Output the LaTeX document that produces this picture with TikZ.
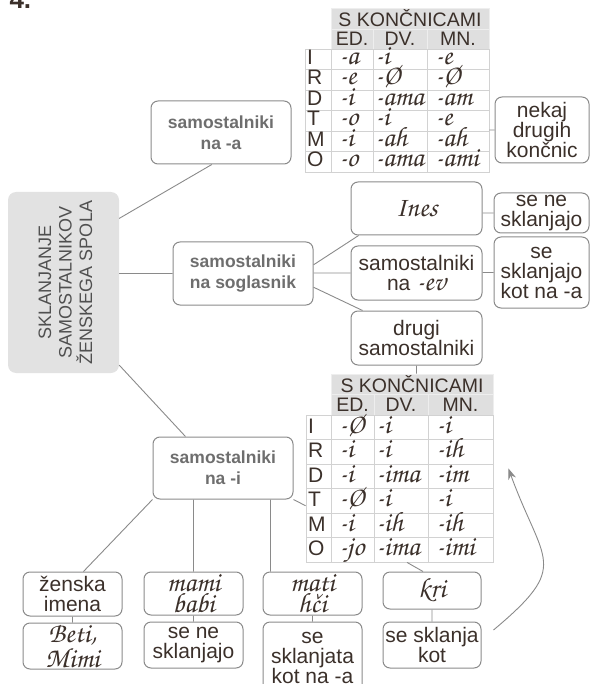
\documentclass[tikz,border=0pt]{standalone}
\usepackage[T1,TU]{fontenc}
\usepackage{fontspec}
\setmainfont{Liberation Sans}
\usepackage{tikz}
\usetikzlibrary{arrows.meta}

\definecolor{linegray}{HTML}{8A8A8A}
\definecolor{boldtxt}{HTML}{6E6E6E}
\definecolor{txt}{HTML}{3B302A}
\definecolor{maintxt}{HTML}{505050}
\definecolor{mainfill}{HTML}{E2E2E2}
\definecolor{hdrfill}{HTML}{DFDFDF}
\definecolor{hdrline}{HTML}{EEEEEE}
\definecolor{gridgray}{HTML}{D2D2D2}

\newcommand\reg{\fontsize{21}{20}\selectfont}
\newcommand\bld{\bfseries\fontsize{17.5}{21}\selectfont}
\newcommand\hdrf{\fontsize{19.5}{20}\selectfont}
\newcommand\cur{\fontencoding{T1}\fontfamily{pzc}\fontseries{mb}\fontshape{it}\fontsize{28}{18.5}\selectfont}

\begin{document}
\begin{tikzpicture}[x=1pt,y=-1pt,
    box/.style={draw=linegray, line width=1pt, rounded corners=7pt, align=center, inner sep=0pt, text=txt, font=\reg},
    bbox/.style={box, text=boldtxt, font=\bld},
    con/.style={draw=linegray, line width=0.9pt},
    hdr/.style={fill=hdrfill, draw=hdrline, line width=0.8pt, inner sep=0pt, text=txt, font=\hdrf},
    cell/.style={draw=gridgray, line width=0.8pt, inner xsep=8pt, inner ysep=0pt, align=left, text=txt, font=\cur, text height=14pt, text depth=4pt},
    cell2/.style={cell, text height=16pt},
    lett/.style={inner xsep=2pt, font=\reg}]
  \useasboundingbox (0,0) rectangle (590,684);
  % title
  \node[anchor=base west, text=txt, font=\bfseries\fontsize{26}{26}\selectfont] (nr) at (6,9) {4.};
  % main box
  \node[fill=mainfill, rounded corners=8pt, minimum width=111, minimum height=181, inner sep=0pt] (glavno) at (63.5,282.5) {};
  \node[rotate=90, align=center, text=maintxt, font=\fontsize{18}{20.5}\selectfont] (naslov) at ([xshift=2pt]glavno.center) {SKLANJANJE\\SAMOSTALNIKOV\\ŽENSKEGA SPOLA};
  % branches
  \node[bbox, minimum width=140, minimum height=63] (naa) at (221,132.5) {samostalniki\\na -a};
  \node[bbox, minimum width=140, minimum height=63] (nasogl) at (243,273.5) {samostalniki\\na soglasnik};
  \node[bbox, minimum width=140, minimum height=62] (nai) at (223,468) {samostalniki\\na -i};

  % table 1
  \node[hdr, minimum width=158, minimum height=21] (h1) at (410,18.5) {S KONČNICAMI};
  \node[hdr, minimum width=42, minimum height=20] (h1ed) at (352,39) {ED.};
  \node[hdr, minimum width=54, minimum height=20] (h1dv) at (400,39) {DV.};
  \node[hdr, minimum width=62, minimum height=20] (h1mn) at (458,39) {MN.};
  \foreach \i/\sk/\ed/\dv/\mn in {1/I/-a/-i/-e, 2/R/-e/-\O/-\O, 3/D/-i/-ama/-am,
      4/T/-o/-i/-e, 5/M/-i/-ah/-ah, 6/O/-o/-ama/-ami}{
    \node[cell, lett, text width=22, minimum height=20.5] (p1-\i) at (318,{38.75+20.5*\i}) {\sk};
    \node[cell, text width=26, minimum height=20.5] (c1-\i-1) at (352,{38.75+20.5*\i}) {\mbox{\ed}};
    \node[cell, text width=50, inner xsep=2pt, minimum height=20.5] (c1-\i-2) at (400,{38.75+20.5*\i}) {\mbox{\dv}};
    \node[cell, text width=46, minimum height=20.5] (c1-\i-3) at (458,{38.75+20.5*\i}) {\mbox{\mn}};
  }
  \node[box, minimum width=94, minimum height=66] (drug) at (542,130) {nekaj\\drugih\\končnic};

  % soglasnik
  \node[box, minimum width=131, minimum height=53] (ines) at (416.5,208.5) {\cur Ines};
  \node[box, minimum width=131, minimum height=54] (naev) at (416.5,273) {samostalniki\\na {\cur -ev}};
  \node[box, minimum width=131, minimum height=54] (drugi) at (416.5,338) {drugi\\samostalniki};
  \node[box, minimum width=95, minimum height=40] (nesk1) at (541.5,213) {se ne\\sklanjajo};
  \node[box, minimum width=95, minimum height=71] (kotna) at (541.5,272.5) {se\\sklanjajo\\kot na -a};

  % table 2
  \node[hdr, minimum width=162, minimum height=20] (h2) at (412,384) {S KONČNICAMI};
  \node[hdr, minimum width=43, minimum height=21] (h2ed) at (352.5,404.5) {ED.};
  \node[hdr, minimum width=54, minimum height=21] (h2dv) at (401,404.5) {DV.};
  \node[hdr, minimum width=65, minimum height=21] (h2mn) at (460.5,404.5) {MN.};
  \foreach \i/\sk/\ed/\dv/\mn in {1/I/-\O/-i/-i, 2/R/-i/-i/-ih, 3/D/-i/-ima/-im,
      4/T/-\O/-i/-i, 5/M/-i/-ih/-ih, 6/O/-jo/-ima/-imi}{
    \node[cell2, lett, text width=21, minimum height=24.5] (p2-\i) at (318.5,{402.75+24.5*\i}) {\sk};
    \node[cell2, text width=27, minimum height=24.5] (c2-\i-1) at (352.5,{402.75+24.5*\i}) {\mbox{\ed}};
    \node[cell2, text width=50, inner xsep=2pt, minimum height=24.5] (c2-\i-2) at (401,{402.75+24.5*\i}) {\mbox{\dv}};
    \node[cell2, text width=49, minimum height=24.5] (c2-\i-3) at (460.5,{402.75+24.5*\i}) {\mbox{\mn}};
  }

  % na -i
  \node[box, minimum width=99, minimum height=44] (zen) at (72.5,594) {ženska\\imena};
  \node[box, font=\cur, minimum width=99, minimum height=46] (beti) at (72.5,646) {Beti,\\Mimi};
  \node[box, font=\cur, minimum width=99, minimum height=43] (mami) at (193.5,593.5) {mami\\babi};
  \node[box, minimum width=99, minimum height=46] (nesk2) at (193.5,645) {se ne\\sklanjajo};
  \node[box, font=\cur, minimum width=99, minimum height=43] (mati) at (312.5,593.5) {mati\\h\v{c}i};
  \node[box, minimum width=99, minimum height=72] (kotna2) at (312.5,658) {se\\sklanjata\\kot na -a};
  \node[box, font=\cur, minimum width=98, minimum height=37] (kri) at (432,590.5) {kri};
  \node[box, minimum width=98, minimum height=46] (kot) at (432,645) {se sklanja\\kot};

  % connectors
  \coordinate (m1) at ([xshift=8pt]mati.north west);
  \coordinate (k1) at ([xshift=6pt]c2-6-2.south);
  \coordinate (k2) at ([xshift=-9pt]kri.north);
  \coordinate (a1) at ([xshift=12pt,yshift=15pt]kot.east);
  \coordinate (a2) at ([xshift=15pt,yshift=-4pt]c2-2-3.south east);
  \path[con]
    (glavno.49) -- (naa.254)
    (nasogl.west) -- (nasogl.west -| glavno.east)
    (glavno.-56) -- (nai.140)
    (drug.west) -- (drug.west -| c1-4-3.east)
    (nasogl.7) -- (ines.205)
    (naev.west) -- (naev.west -| nasogl.east)
    (nasogl.-11) -- (drugi.153)
    (nesk1.west) -- (nesk1.west -| ines.east)
    (kotna.west) -- (kotna.west -| naev.east)
    (drugi.south) -- (drugi.south |- h2.north)
    (nai.south east) -- ([yshift=-5pt]p2-4.west)
    (nai.south west) -- (zen.64)
    (mami.north) -- (mami.north |- nai.south)
    (m1) -- (m1 |- nai.south)
    (zen.south) -- (beti.north)
    (mami.south) -- (nesk2.north)
    (mati.south) -- (kotna2.north)
    (kri.south) -- (kot.north)
    (k1) -- (k2);
  \draw[con, -{Stealth[length=11pt,width=8pt]}, looseness=1.6] (a1) to[out=40,in=-70] (a2);
\end{tikzpicture}
\end{document}
